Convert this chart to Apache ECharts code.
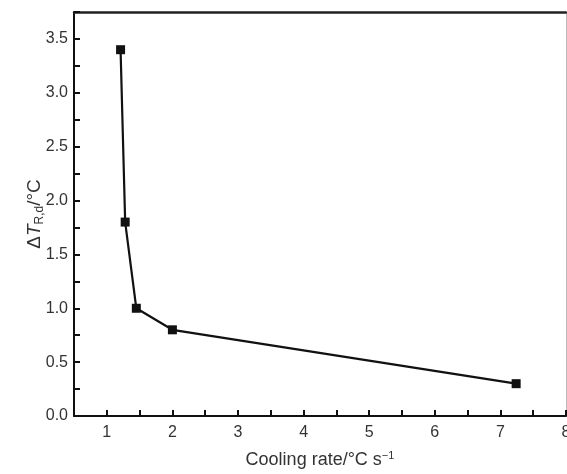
<!DOCTYPE html>
<html><head><meta charset="utf-8">
<script src="https://cdn.jsdelivr.net/npm/echarts@6/dist/echarts.min.js"></script>
<style>html,body{margin:0;padding:0;background:#fff}#c{width:567px;height:474px}</style>
</head><body><div id="c"></div>
<script>
const coolingRate = [1.21, 1.28, 1.45, 2.0, 7.24];
const deltaT = [3.4, 1.8, 1.0, 0.8, 0.3];
const xTicks = [1, 2, 3, 4, 5, 6, 7, 8];
const yTicks = [0.0, 0.5, 1.0, 1.5, 2.0, 2.5, 3.0, 3.5];

const chart = echarts.init(document.getElementById('c'), null, {renderer: 'canvas'});
const font = 'Liberation Sans, Arial, sans-serif';
const labelColor = '#333';
chart.setOption({
  animation: false,
  grid: {left: 74, right: 1, top: 12, bottom: 58, containLabel: false, outerBoundsMode: 'none'},
  xAxis: [{
    type: 'value', min: 0.5, max: 8, interval: 0.5,
    name: '{a|Cooling rate/°C s}{u|−1}', nameLocation: 'middle', nameGap: 34,
    nameMoveOverlap: false,
    nameTextStyle: {fontFamily: font, fontSize: 18, color: labelColor,
      rich: {
        a: {fontFamily: font, fontSize: 18, color: labelColor},
        u: {fontFamily: font, fontSize: 11, color: labelColor, padding: [0, 0, 9, 0]}
      }},
    axisLine: {onZero: false, lineStyle: {color: '#111', width: 2}},
    axisTick: {inside: true, length: 6, lineStyle: {color: '#111', width: 2}},
    axisLabel: {fontFamily: font, fontSize: 16, color: labelColor, margin: 9,
      formatter: function(v){ return xTicks.indexOf(v) >= 0 ? String(v) : ''; }},
    splitLine: {show: false}
  }, {
    type: 'value', position: 'top', min: 0.5, max: 8,
    axisLine: {show: true, onZero: false, lineStyle: {color: '#222', width: 2.5}},
    axisTick: {show: false}, axisLabel: {show: false}, splitLine: {show: false}
  }],
  yAxis: [{
    type: 'value', min: 0, max: 3.75, interval: 0.25,
    name: '{a|Δ}{i|T}{s|R,d}{a|/°C}', nameLocation: 'middle', nameGap: 28,
    nameMoveOverlap: false,
    nameTextStyle: {
      fontFamily: font, fontSize: 19, color: labelColor,
      rich: {
        a: {fontFamily: font, fontSize: 19, color: labelColor},
        i: {fontFamily: font, fontSize: 19, fontStyle: 'italic', color: labelColor},
        s: {fontFamily: font, fontSize: 12, color: labelColor, padding: [10, 0, 0, 0]}
      }
    },
    axisLine: {onZero: false, lineStyle: {color: '#111', width: 2}},
    axisTick: {inside: true, length: 6, lineStyle: {color: '#111', width: 2}},
    axisLabel: {fontFamily: font, fontSize: 16, color: labelColor, margin: 6,
      formatter: function(v){
        const r = Math.round(v * 100) / 100;
        return yTicks.indexOf(r) >= 0 ? r.toFixed(1) : '';
      }},
    splitLine: {show: false}
  }, {
    type: 'value', position: 'right', min: 0, max: 3.75,
    axisLine: {show: true, onZero: false, lineStyle: {color: '#bbb', width: 1}},
    axisTick: {show: false}, axisLabel: {show: false}, splitLine: {show: false}
  }],
  series: [{
    type: 'line',
    data: coolingRate.map((x, i) => [x, deltaT[i]]),
    symbol: 'rect', symbolSize: 9,
    lineStyle: {color: '#111', width: 2.2},
    itemStyle: {color: '#111'}
  }]
});
</script>
</body></html>
